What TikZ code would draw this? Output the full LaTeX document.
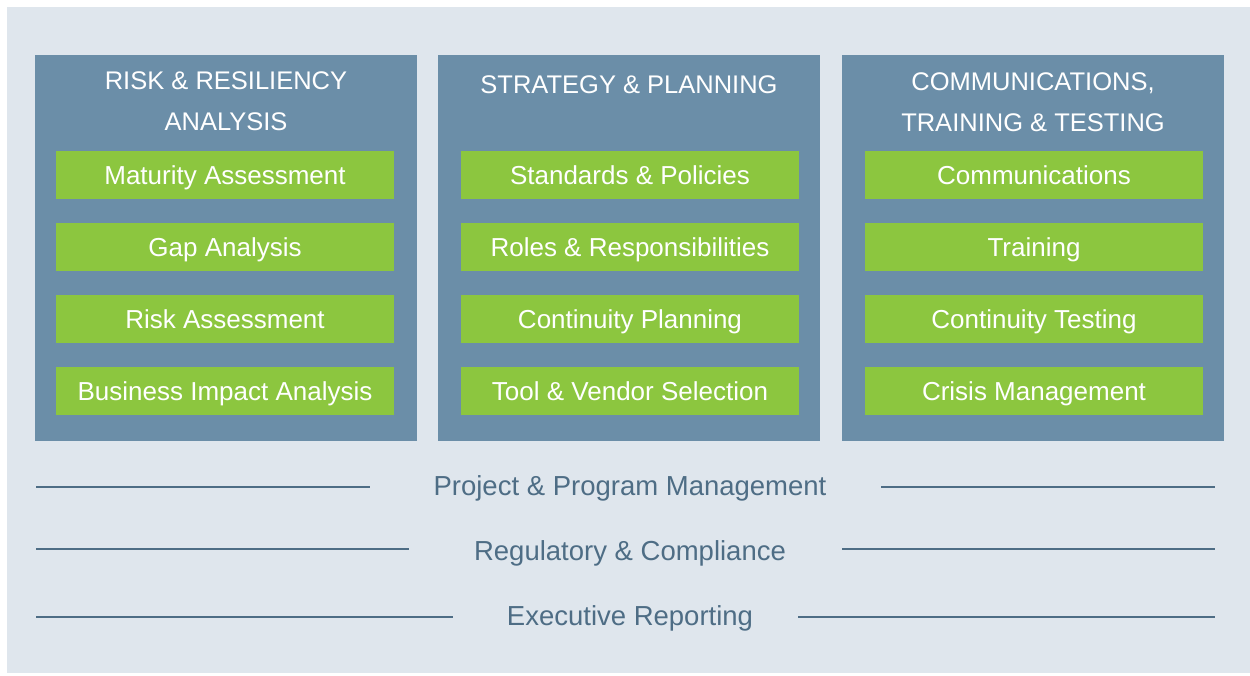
\documentclass[tikz,border=0pt]{standalone}
\usepackage{fontspec}
\setmainfont{Liberation Sans}
\definecolor{bgblue}{HTML}{DFE6ED}
\definecolor{panelblue}{HTML}{6B8EA8}
\definecolor{leafgreen}{HTML}{8CC63F}
\definecolor{slate}{HTML}{4E6D85}
\tikzset{
  panel/.style={fill=panelblue,minimum width=382pt,minimum height=386pt,inner sep=0pt},
  item/.style={fill=leafgreen,text=white,minimum width=338pt,minimum height=48pt,inner sep=0pt,
    text height=18pt,text depth=0pt,font=\fontsize{26}{31}\selectfont},
  head/.style={text=white,align=center,anchor=base,font=\fontsize{25.5}{41}\selectfont},
  band/.style={text=slate,anchor=base,font=\fontsize{27.5}{31}\selectfont},
  rule/.style={draw=slate,line width=2pt}
}
\begin{document}
\begin{tikzpicture}[x=1pt,y=-1pt,line cap=butt]
            \useasboundingbox[fill=white] (0,0) rectangle (1250,675);
            \fill[bgblue] (7,7) rectangle (1250,673);
            % three columns
            \node[panel] (p1) at (226,247.5) {};
            \node[panel] (p2) at (629,247.5) {};
            \node[panel] (p3) at (1033,247.5) {};
            \node[head] (h1) at (226,130) {RISK \& RESILIENCY\\ANALYSIS};
            \node[head] (h2) at (629,93) {STRATEGY \& PLANNING};
            \node[head] (h3) at (1033,131) {COMMUNICATIONS,\\TRAINING \& TESTING};
            \foreach \t [count=\i] in {Maturity Assessment,Gap Analysis,Risk Assessment,Business Impact Analysis}
            \node[item] (r\i) at (225,{175+72*(\i-1)}) {\t};
            \foreach \t [count=\i] in {Standards \& Policies,Roles \& Responsibilities,Continuity Planning,Tool \& Vendor Selection}
            \node[item] (s\i) at (630,{175+72*(\i-1)}) {\t};
            \foreach \t [count=\i] in {Communications,Training,Continuity Testing,Crisis Management}
            \node[item] (c\i) at (1034,{175+72*(\i-1)}) {\t};
            % bands below
            \foreach \y/\l/\t/\a/\b [count=\i] in {495/487/Project \& Program Management/370/881,
                560/549/Regulatory \& Compliance/409/842,
                625/617/Executive Reporting/453/798}{
            \node[band] (b\i) at (630,\y) {\t};
            \draw[rule] (36,\l)--(\a,\l) (\b,\l)--(1215,\l);
            }
        \end{tikzpicture}
\end{document}
